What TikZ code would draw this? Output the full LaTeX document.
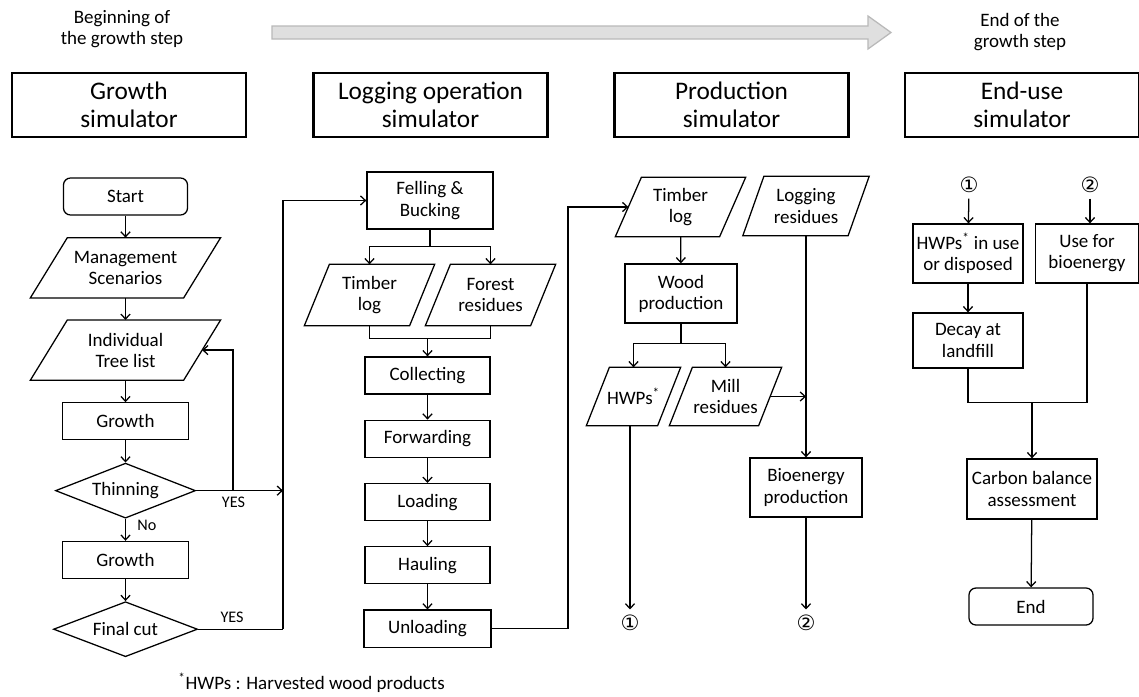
\documentclass[tikz,border=0pt]{standalone}
\usepackage{fontspec}
\setmainfont{Carlito}
\newfontfamily\circfont{DejaVu Sans}
\usetikzlibrary{arrows.meta, positioning, shapes.geometric}

\begin{document}
\begin{tikzpicture}[x=0.025cm, y=-0.025cm, >={Straight Barb[length=3.5pt,width=6.5pt]}, node distance=0.55cm,
  every node/.style={font=\fontsize{13.5}{15}\selectfont, align=center},
  every path/.style={line width=0.9pt},
  hdr/.style={draw, line width=1.5pt, minimum width=5.85cm, minimum height=1.6cm, font=\fontsize{18}{20}\selectfont},
  box/.style={draw, inner sep=1pt, minimum width=3.15cm, minimum height=0.925cm},
  term/.style={box, rounded corners=5pt},
  io/.style={inner sep=1pt, minimum width=3.8cm, minimum height=1.475cm},
  dec/.style={draw, diamond, aspect=2.5, inner sep=0pt, minimum width=3.5cm, minimum height=1.375cm},
  lbl/.style={font=\fontsize{11.5}{13}\selectfont, inner sep=1pt},
  circ/.style={font=\circfont\fontsize{15}{16}\selectfont, inner sep=1pt, outer sep=3pt}]
\useasboundingbox (0,0) rectangle (1139,697);
% time arrow
\filldraw[fill=gray!25, draw=gray!55] (272,26) -- (868,26) -- (868,16) -- (891,32.5) -- (868,49) -- (868,39) -- (272,39) -- cycle;
\node (tbeg) at (122,29) {Beginning of\\the growth step};
\node (tend) at (1020,32) {End of the\\growth step};
% headers
\node[hdr] (h1) at (129,105) {Growth\\simulator};
\node[hdr] (h2) at (430.5,105) {Logging operation\\simulator};
\node[hdr] (h3) at (731.5,105) {Production\\simulator};
\node[hdr] (h4) at (1022,105) {End-use\\simulator};
% growth simulator
\node[term, minimum width=3.1cm] (start) at (125.5,196.5) {Start};
\node[io, below=of start] (mgmt) {Management\\Scenarios};
\node[io, below=of mgmt] (tree) {Individual\\Tree list};
\node[box, below=of tree] (grow1) {Growth};
\node[dec, below=of grow1] (thin) {Thinning};
\node[box, below=of thin] (grow2) {Growth};
\node[dec, below=of grow2, minimum width=3.6cm] (fcut) {Final cut};
\coordinate (lp) at (233,0);
\coordinate (jx) at (283,0);
\draw[->] (start) -- (mgmt);
\draw[->] (mgmt) -- (tree);
\draw[->] (tree) -- (grow1);
\draw[->] (grow1) -- (thin);
\draw[->] (thin) -- node[lbl, right=7pt, pos=0.3] {No} (grow2);
\draw[->] (grow2) -- (fcut);
\draw[->] (thin.east) -- node[lbl, below=3pt, pos=0.43] {YES} (thin.east -| jx);
\draw[->] (thin.east -| lp) |- (tree.east);
\draw (fcut.east) -- node[lbl, above=3pt, pos=0.4] {YES} (fcut.east -| jx);
% logging operation simulator
\node[box, minimum height=1.425cm] (fell) at (430,200.5) {Felling \&\\Bucking};
\node[io, minimum width=2.6cm, minimum height=1.5cm] (tlog) at (369.5,295) {Timber\\log};
\node[io, minimum width=2.6cm, minimum height=1.5cm] (fres) at (490.5,295) {Forest\\residues};
\node[box, minimum width=3.125cm] (coll) at (427.5,375.5) {Collecting};
\node[box, minimum width=3.125cm, below=0.625cm of coll] (fwd) {Forwarding};
\node[box, minimum width=3.125cm, below=0.625cm of fwd] (load) {Loading};
\node[box, minimum width=3.125cm, below=0.625cm of load] (haul) {Hauling};
\node[box, minimum width=3.175cm, below=0.625cm of haul] (unload) {Unloading};
\coordinate (jx2) at (568,0);
\draw[->] (fcut.east -| jx) |- (fell.west);
\draw[->] (fell.south) -- ++(0,17) -| (tlog.north);
\draw[->] (fell.south) -- ++(0,17) -| (fres.north);
\draw (tlog.south) -- ++(0,13) coordinate (m1) -| (fres.south);
\draw[->] (m1 -| coll) -- (coll);
\draw[->] (coll) -- (fwd);
\draw[->] (fwd) -- (load);
\draw[->] (load) -- (haul);
\draw[->] (haul) -- (unload);
% production simulator
\node[io, minimum width=2.575cm, minimum height=1.45cm] (plog) at (680.5,207) {Timber\\log};
\node[io, minimum width=2.6cm, minimum height=1.45cm] (lres) at (806,206) {Logging\\residues};
\node[box, minimum width=2.8cm, minimum height=1.475cm] (wood) at (681,293.5) {Wood\\production};
\node[io, minimum width=1.75cm, minimum height=1.425cm] (hwp) at (633.5,396.5) {HWPs\textsuperscript{*}};
\node[io, minimum width=2.2cm, minimum height=1.425cm] (mill) at (725.5,396.5) {Mill\\residues};
\node[box, minimum width=2.8cm, minimum height=1.475cm] (bio) at (806,487.5) {Bioenergy\\production};
\node[circ] (c1) at (630,623) {①};
\node[circ] (c2) at (806,623) {②};
\draw[->] (unload.east) -| (plog.west -| jx2) -- (plog.west);
\draw[->] (plog) -- (wood);
\draw[->] (wood.south) -- ++(0,20) -| (hwp.north);
\draw[->] (wood.south) -- ++(0,20) -| (mill.north);
\draw[->] (lres) -- (bio);
\draw[->] (mill.east) -- (mill.east -| bio);
\draw[->] (hwp.south -| c1) -- (c1);
\draw[->] (bio) -- (c2);
% input/output parallelograms
\foreach \n/\k in {mgmt/18.5, tree/18.5, tlog/12.5, fres/12.5, plog/13, lres/10.5, hwp/11.5, mill/11.5}
  \draw ([xshift=\k*0.025cm]\n.north west) -- ([xshift=\k*0.025cm]\n.north east)
    -- ([xshift=-\k*0.025cm]\n.south east) -- ([xshift=-\k*0.025cm]\n.south west) -- cycle;
% end-use simulator
\node[circ] (c1b) at (969,185) {①};
\node[circ] (c2b) at (1090,185) {②};
\node[box, minimum width=2.75cm, minimum height=1.475cm] (inuse) at (968,253.5) {HWPs\textsuperscript{*} in use\\or disposed};
\node[box, minimum width=2.575cm, minimum height=1.475cm] (usebio) at (1087,253.5) {Use for\\bioenergy};
\node[box, minimum width=2.75cm, minimum height=1.375cm] (decay) at (968,340.5) {Decay at\\landfill};
\node[box, minimum width=3.25cm, minimum height=1.5cm] (carbon) at (1032,489) {Carbon balance\\assessment};
\node[term, minimum width=3.1cm] (endn) at (1031,606.5) {End};
\draw[->] (c1b) -- (inuse);
\draw[->] (c2b) -- (c2b |- usebio.north);
\draw[->] (inuse) -- (decay);
\draw (decay.south) -- ++(0,34) coordinate (m3) -| (usebio.south);
\draw[->] (m3 -| carbon) -- (carbon);
\draw[->] (carbon) -- (endn);
% footnote
\node[anchor=west] (fnote) at (173,683) {\textsuperscript{*}HWPs : Harvested wood products};
\end{tikzpicture}
\end{document}
